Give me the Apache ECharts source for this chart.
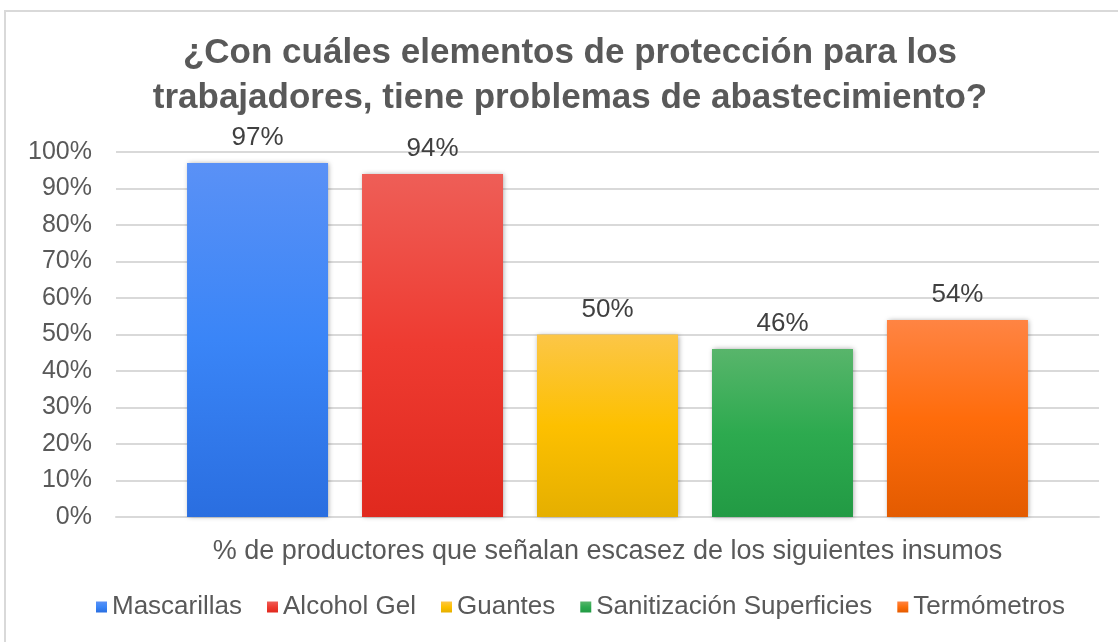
<!DOCTYPE html>
<html>
<head>
<meta charset="utf-8">
<script src="https://cdn.jsdelivr.net/npm/echarts@6/dist/echarts.min.js"></script>
<style>
html,body{margin:0;padding:0;background:#fff;}
#chart{width:1118px;height:642px;}
</style>
</head>
<body>
<div id="chart"></div>
<script>
var titleText = "¿Con cuáles elementos de protección para los\ntrabajadores, tiene problemas de abastecimiento?";
var categoryLabel = "% de productores que señalan escasez de los siguientes insumos";
var seriesNames = ["Mascarillas", "Alcohol Gel", "Guantes", "Sanitización Superficies", "Termómetros"];
var seriesValues = [97, 94, 50, 46, 54];
var topColors = ["#5a91f6", "#ee5e57", "#fcc647", "#58b56b", "#ff8443"];
var midColors = ["#3a85f7", "#ee3b31", "#fdc000", "#2daa4f", "#ff6c0b"];
var bottomColors = ["#2a6ee0", "#e0291e", "#e5af00", "#229a44", "#e35b00"];

var FONT = "Liberation Sans, Arial, sans-serif";

var series = seriesNames.map(function (name, i) {
  return {
    name: name,
    type: 'bar',
    data: [seriesValues[i]],
    barWidth: 141,
    barGap: '24.1%',
    itemStyle: {
      color: new echarts.graphic.LinearGradient(0, 0, 0, 1, [
        {offset: 0, color: topColors[i]},
        {offset: 0.5, color: midColors[i]},
        {offset: 1, color: bottomColors[i]}
      ]),
      shadowBlur: 5,
      shadowColor: 'rgba(0,0,0,0.35)',
      shadowOffsetX: 1,
      shadowOffsetY: 0
    },
    label: {
      show: true,
      position: 'top',
      distance: 12,
      formatter: '{c}%',
      fontFamily: FONT,
      fontSize: 26,
      color: '#404040'
    }
  };
});

var chart = echarts.init(document.getElementById('chart'));
chart.setOption({
  animation: false,
  color: midColors,
  graphic: [{
    type: 'rect',
    shape: {x: 5, y: 11, width: 1300, height: 800},
    style: {fill: 'none', stroke: '#d9d9d9', lineWidth: 2},
    silent: true,
    z: -10
  }],
  title: {
    text: titleText,
    left: 565,
    textAlign: 'center',
    top: 26,
    textStyle: {
      fontFamily: FONT,
      fontSize: 35,
      fontWeight: 'bold',
      color: '#595959',
      lineHeight: 45
    }
  },
  legend: {
    data: seriesNames,
    bottom: 17,
    left: 91,
    itemWidth: 11,
    itemHeight: 11,
    itemGap: 25,
    icon: 'rect',
    textStyle: {
      fontFamily: FONT,
      fontSize: 26,
      color: '#595959'
    }
  },
  grid: {
    left: 116,
    right: 19,
    top: 152,
    bottom: 125,
    containLabel: false
  },
  xAxis: {
    type: 'category',
    data: [categoryLabel],
    axisLine: {show: true, lineStyle: {color: '#d9d9d9', width: 2}},
    axisTick: {show: false},
    axisLabel: {
      margin: 21,
      fontFamily: FONT,
      fontSize: 27,
      color: '#595959'
    }
  },
  yAxis: {
    type: 'value',
    min: 0,
    max: 100,
    interval: 10,
    axisLine: {show: false},
    axisTick: {show: false},
    axisLabel: {
      margin: 24,
      formatter: '{value}%',
      fontFamily: FONT,
      fontSize: 25,
      color: '#595959'
    },
    splitLine: {lineStyle: {color: '#d9d9d9', width: 2}}
  },
  series: series
});
</script>
</body>
</html>
